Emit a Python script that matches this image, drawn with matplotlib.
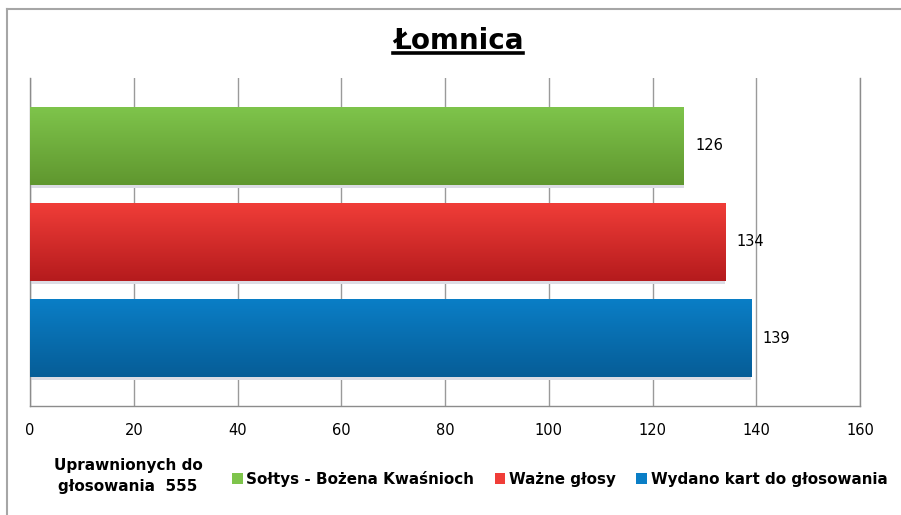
import numpy as np
import matplotlib
matplotlib.use('Agg')
import matplotlib.pyplot as plt
from matplotlib.colors import LinearSegmentedColormap
from matplotlib.patches import Patch, Rectangle
from matplotlib.lines import Line2D

# data
series = ['Wydano kart do głosowania', 'Ważne głosy', 'Sołtys - Bożena Kwaśnioch']
values = [139, 134, 126]
top_colors = ['#0a7ec6', '#f03d38', '#7ec44b']
bottom_colors = ['#065d97', '#b51b1d', '#60972f']
ticks = [0, 20, 40, 60, 80, 100, 120, 140, 160]
title = 'Łomnica'
note = 'Uprawnionych do\ngłosowania  555'

plt.rcParams['font.family'] = ['DejaVu Sans']

fig = plt.figure(figsize=(9.01, 5.15), dpi=100)
W, H = 901, 515
ax = fig.add_axes([30 / W, 1 - 406 / H, 830 / W, 328 / H])

# outer chart frame (only top and left visible in the crop)
fig.add_artist(Line2D([6.5 / W, 6.5 / W], [0, 1 - 9 / H], color='#a6a6a6', lw=1.5))
fig.add_artist(Line2D([6.5 / W, 1], [1 - 9 / H, 1 - 9 / H], color='#a6a6a6', lw=1.5))

ax.set_xlim(0, 160)
ax.set_ylim(-0.705, 2.705)
ax.set_xticks(ticks)
ax.set_yticks([])
ax.xaxis.grid(True, color='#9a9a9a', lw=1.0)
ax.set_axisbelow(True)
ax.spines['top'].set_visible(False)
for s in ['left', 'right', 'bottom']:
    ax.spines[s].set_color('#8c8c8c')
    ax.spines[s].set_linewidth(1.0)
ax.tick_params(axis='x', length=0, pad=12, labelsize=10.5)

bh = 0.81
for i, (v, c1, c2) in enumerate(zip(values, top_colors, bottom_colors)):
    # soft shadow under bar
    ax.add_patch(Rectangle((0, i - bh / 2 - 0.03), v, 0.03, color='#dcdce4', lw=0, zorder=2))
    cmap = LinearSegmentedColormap.from_list('g%d' % i, [c2, c1])
    grad = np.linspace(0, 1, 100).reshape(-1, 1)
    ax.imshow(grad, cmap=cmap, aspect='auto', origin='lower',
              extent=[0, v, i - bh / 2, i + bh / 2], zorder=3)
    ax.text(v + 2.2, i, str(v), va='center', ha='left', fontsize=10.5, zorder=4)

ax.set_xlim(0, 160)
ax.set_ylim(-0.705, 2.705)

# title with underline
t = fig.text(458 / W, 1 - 41 / H, title, ha='center', va='center',
             fontsize=20, fontweight='bold')
fig.canvas.draw()
bb = t.get_window_extent()
fig.add_artist(Line2D([bb.x0 / W, bb.x1 / W], [(bb.y0 + 2) / H, (bb.y0 + 2) / H],
                      color='black', lw=2.6))

# note and legend
fig.text(128 / W, 1 - 476 / H, note, ha='center', va='center', fontsize=11,
         fontweight='bold', linespacing=1.45)
handles = [Patch(facecolor=top_colors[k], edgecolor='none') for k in [2, 1, 0]]
labels = [series[k] for k in [2, 1, 0]]
fig.legend(handles, labels, loc='center left', bbox_to_anchor=(232 / W, 1 - 479 / H),
           ncol=3, frameon=False, prop={'weight': 'bold', 'size': 10.9},
           handlelength=0.7, handleheight=0.7, handletextpad=0.25, columnspacing=1.35,
           borderaxespad=0, borderpad=0)

fig.savefig('out.png', dpi=100)
